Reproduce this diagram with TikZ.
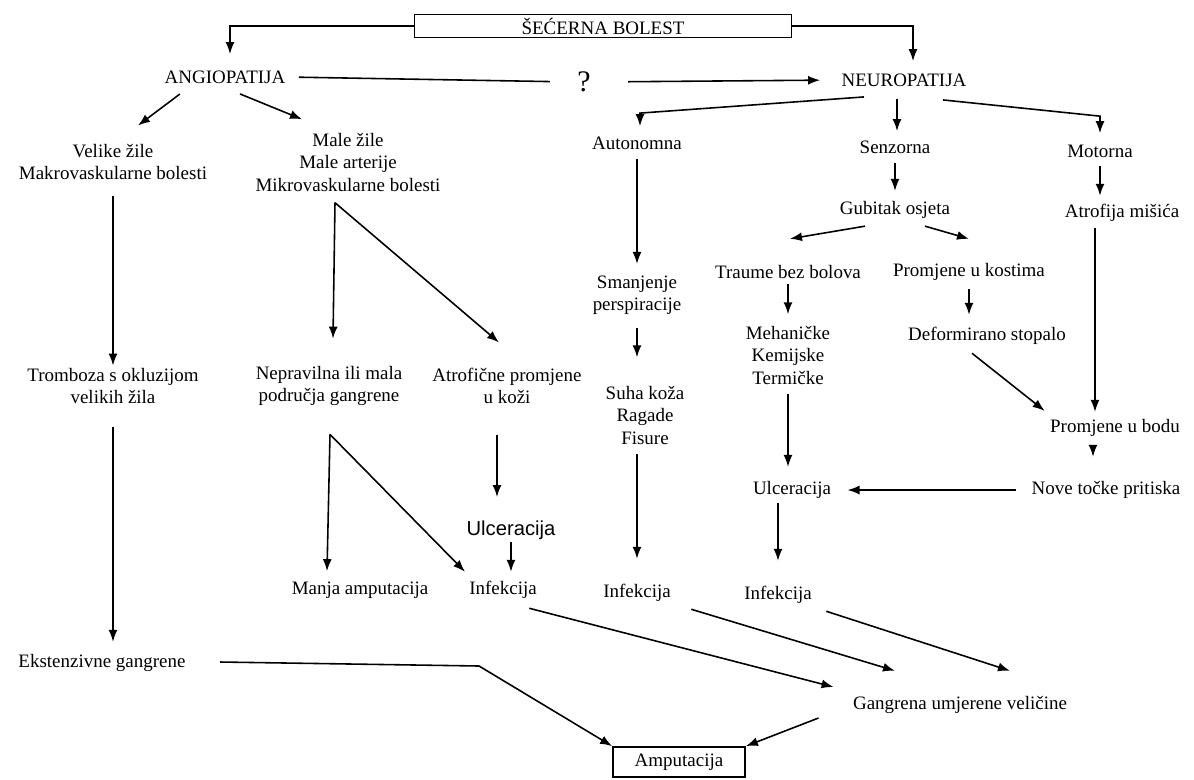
\documentclass[tikz,border=0pt]{standalone}
\usepackage{fontspec}
\setmainfont{Liberation Serif}
\setsansfont{Liberation Sans}
\usetikzlibrary{arrows.meta,calc}
\tikzset{
  every picture/.style={line width=0.9pt},
  lbl/.style={align=center,inner sep=1pt,font=\fontsize{10.8}{12.8}\selectfont},
  frame/.style={draw,line width=1pt,inner sep=1pt,font=\fontsize{10.8}{12.8}\selectfont},
  flow/.style={-{Latex[length=2.4mm,width=1.8mm]},line width=0.9pt},
}
\begin{document}
\begin{tikzpicture}[x=0.02cm,y=-0.02cm]
\useasboundingbox (0,0) rectangle (1194,779);
% top
\node[frame,minimum width=7.54cm,minimum height=0.46cm] (bolest) at (603,26) {ŠEĆERNA BOLEST};
\node[lbl] (angio) at (225,77) {ANGIOPATIJA};
\node[lbl,font=\fontsize{17}{17}\selectfont] (quest) at (584,82) {?};
\node[lbl] (neuro) at (904,80) {NEUROPATIJA};
\draw[flow,shorten >=2.8mm] (bolest.west) -| ($(angio.north)+(5,0)$);
\draw[flow,shorten >=2mm] (bolest.east) -| ($(neuro.north)+(9,0)$);
\draw[shorten <=2.2mm,shorten >=5mm] (angio.east) -- (quest.west);
\draw[flow,shorten <=7mm,shorten >=3.8mm] (quest.east) -- (neuro.west);
% angiopatija
\node[lbl] (velike) at (113,162) {Velike žile\\Makrovaskularne bolesti};
\node[lbl] (male) at (348,162) {Male žile\\Male arterije\\Mikrovaskularne bolesti};
\node[lbl] (tromb) at (113,386) {Tromboza s okluzijom\\velikih žila};
\node[lbl] (neprav) at (329,386) {Nepravilna ili mala\\područja gangrene};
\node[lbl] (atrof) at (507,386) {Atrofične promjene\\u koži};
\node[lbl,font=\sffamily\fontsize{11.5}{13}\selectfont] (ulcerA) at (511,530) {Ulceracija};
\node[lbl] (manja) at (360,590) {Manja amputacija};
\node[lbl] (infA) at (503,590) {Infekcija};
\node[lbl] (eksten) at (102,663) {Ekstenzivne gangrene};
\draw[flow] ($(angio.south)+(-45,8)$) -- ($(velike.north)+(25,-16)$);
\draw[flow] ($(angio.south)+(15,8)$) -- ($(male.north)+(-46,-11)$);
\draw[flow,shorten <=2.8mm] (velike.south) -- (velike.south |- tromb.north);
\draw[flow] ($(male.south)+(-13,9)$) -- ($(neprav.north)+(4,-25)$);
\draw[flow] ($(male.south)+(-13,9)$) -- ($(atrof.north)+(-8,-23)$);
\draw[flow,shorten <=4.2mm,shorten >=2mm] (tromb.south) -- (tromb.south |- eksten.north);
\draw[flow] ($(neprav.south)+(1,26)$) -- ($(neprav.south |- manja.north)+(-2,-8)$);
\draw[flow] ($(neprav.south)+(1,26)$) -- ($(infA.north)+(-38,-7)$);
\draw[flow] ($(atrof.south)+(-10,28)$) -- ($(ulcerA.north)+(-14,-21)$);
\draw[flow,shorten >=1.4mm] (ulcerA.south) -- (ulcerA.south |- infA.north);
% neuropatija
\node[lbl] (auton) at (637,143) {Autonomna};
\node[lbl] (senz) at (895,147) {Senzorna};
\node[lbl] (motor) at (1100,151) {Motorna};
\node[lbl] (smanj) at (637,295) {Smanjenje\\perspiracije};
\node[lbl] (gubit) at (895,210) {Gubitak osjeta};
\node[lbl] (traume) at (788,272) {Traume bez bolova};
\node[lbl] (kost) at (969,272) {Promjene u kostima};
\node[lbl] (mehan) at (788,355) {Mehaničke\\Kemijske\\Termičke};
\node[lbl] (deform) at (987,336) {Deformirano stopalo};
\node[lbl] (atrofm) at (1122,213) {Atrofija mišića};
\node[lbl] (suha) at (645,415) {Suha koža\\Ragade\\Fisure};
\node[lbl] (bodu) at (1115,428) {Promjene u bodu};
\node[lbl] (nove) at (1106,490) {Nove točke pritiska};
\node[lbl] (ulcerB) at (792,490) {Ulceracija};
\node[lbl] (infB) at (637,593) {Infekcija};
\node[lbl] (infC) at (778,595) {Infekcija};
\draw[flow] ($(neuro.south)+(-40,8)$) -- ($(auton.north)+(3,-21)$) -- ($(auton.north)+(3,-8)$);
\draw[flow] ($(neuro.south)+(-7,10)$) -- ($(senz.north)+(2,-7)$);
\draw[flow] ($(neuro.south)+(39,11)$) -- ($(motor.north)+(0,-26)$) -- ($(motor.north)+(0,-9)$);
\draw[flow,shorten <=1.4mm,shorten >=1.8mm] (auton.south) -- (auton.south |- smanj.north);
\draw[flow,shorten <=2.2mm,shorten >=5.2mm] (smanj.south) -- (smanj.south |- suha.north);
\draw[flow,shorten <=1.4mm,shorten >=4.6mm] (infB.north |- suha.south) -- (infB.north);
\draw[flow,shorten <=1.4mm,shorten >=1.6mm] (senz.south) -- (senz.south |- gubit.north);
\draw[flow] ($(gubit.south)+(-30,5)$) -- ($(traume.north)+(2,-24)$);
\draw[flow] ($(gubit.south)+(30,5)$) -- ($(kost.north)+(0,-22)$);
\draw[flow,shorten <=0.6mm,shorten >=1.8mm] (traume.south) -- (traume.south |- mehan.north);
\draw[flow,shorten <=1.2mm,shorten >=2mm] (kost.south) -- (kost.south |- deform.north);
\draw[flow] ($(deform.south)+(-15,6)$) -- ($(bodu.north west)+(-3,-6)$);
\draw[flow,shorten <=1.2mm,shorten >=1.2mm] (motor.south) -- (motor.south |- atrofm.north);
\draw[flow] ($(atrofm.south)+(-27,4)$) -- ($(bodu.north)+(-20,-5)$);
\draw[flow] ($(bodu.south)+(-22,7)$) -- ($(nove.north)+(-13,-22)$);
\draw[flow,shorten <=2.6mm,shorten >=2.8mm] (nove.west) -- (ulcerB.east);
\draw[flow,shorten <=1.4mm,shorten >=2.4mm] (mehan.south) -- (mehan.south |- ulcerB.north);
\draw[flow,shorten <=0.4mm,shorten >=4.6mm] (infC.north |- ulcerB.south) -- (infC.north);
% amputacija
\node[lbl] (gangr) at (960,705) {Gangrena umjerene veličine};
\node[frame,minimum width=2.64cm,minimum height=0.6cm] (amput) at (679,762) {Amputacija};
\draw[flow] ($(infA.south east)+(-10,7)$) -- ($(gangr.west)+(-17,-18)$);
\draw[flow] ($(infB.south east)+(18,5)$) -- ($(gangr.north)+(-65,-23)$);
\draw[flow] ($(infC.south east)+(12,5)$) -- ($(gangr.north)+(50,-23)$);
\draw[flow] ($(eksten.east)+(32,-1)$) -- ++(259,4) -- (amput.north west);
\draw[flow] ($(gangr.west)+(-32,13)$) -- (amput.north east);
\end{tikzpicture}
\end{document}
